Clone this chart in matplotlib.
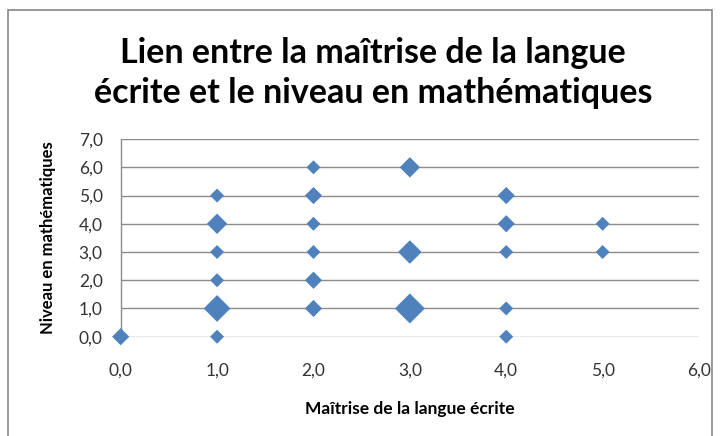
import matplotlib
matplotlib.use("Agg")
import matplotlib.pyplot as plt
from matplotlib.ticker import FuncFormatter, MultipleLocator
from matplotlib.patches import Rectangle

# Data: (écrit, maths, nombre d'élèves)
ecrit = [0, 1, 1, 1, 1, 1, 1, 2, 2, 2, 2, 2, 2, 3, 3, 3, 4, 4, 4, 4, 4, 5, 5]
maths = [0, 0, 1, 2, 3, 4, 5, 1, 2, 3, 4, 5, 6, 1, 3, 6, 0, 1, 3, 4, 5, 3, 4]
effectif = [2, 1, 5, 1, 1, 3, 1, 2, 2, 1, 1, 2, 1, 6, 4, 3, 1, 1, 1, 2, 2, 1, 1]

title = "Lien entre la maîtrise de la langue\nécrite et le niveau en mathématiques"
xlabel = "Maîtrise de la langue écrite"
ylabel = "Niveau en mathématiques"

plt.rcParams['font.family'] = ['Lato', 'DejaVu Sans']

fig = plt.figure(figsize=(7.21, 4.36), dpi=100)
ax = fig.add_axes([120.7 / 721, 1 - 336.7 / 436, (699 - 120.7) / 721, (336.7 - 139.1) / 436])

# outer chart border
fig.patches.append(Rectangle((8 / 721, -0.01), (712 - 8) / 721, 1 - 10 / 436 + 0.01,
                             transform=fig.transFigure, fill=False,
                             edgecolor='#868686', linewidth=1.2))

px = [14 + 3.2 * (n - 1) for n in effectif]
sizes = [(w / 1.964) ** 2 for w in px]
ax.scatter(ecrit, maths, s=sizes, marker='D', color='#4F81BD', linewidths=0, zorder=3, clip_on=False)

ax.set_xlim(0, 6)
ax.set_ylim(0, 7)
ax.xaxis.set_major_locator(MultipleLocator(1))
ax.yaxis.set_major_locator(MultipleLocator(1))
fmt = FuncFormatter(lambda v, p: f"{v:.1f}".replace('.', ','))
ax.xaxis.set_major_formatter(fmt)
ax.yaxis.set_major_formatter(fmt)

ax.grid(axis='y', color='#8C8C8C', linewidth=1.0, zorder=0)
ax.set_axisbelow(True)
for s in ['top', 'right', 'bottom']:
    ax.spines[s].set_visible(False)
ax.spines['left'].set_color('#8C8C8C')
ax.spines['left'].set_linewidth(1.0)
ax.tick_params(axis='y', length=0, labelsize=12.5, labelcolor='#333333', pad=13)
ax.tick_params(axis='x', length=0, labelsize=12.5, labelcolor='#333333', pad=19)

ax.set_xlabel(xlabel, fontsize=12.5, fontweight='bold', va='center')
ax.set_ylabel(ylabel, fontsize=12, fontweight='bold', va='center')
ax.xaxis.set_label_coords(0.5, (336.7 - 409) / 197.6)
ax.yaxis.set_label_coords((48 - 120.7) / 578.3, 0.5)

fig.text(373 / 721, 1 - 73 / 436, title, ha='center', va='center', fontsize=24.5,
         fontweight='bold', linespacing=1.3)

fig.savefig("out.png", dpi=100)
